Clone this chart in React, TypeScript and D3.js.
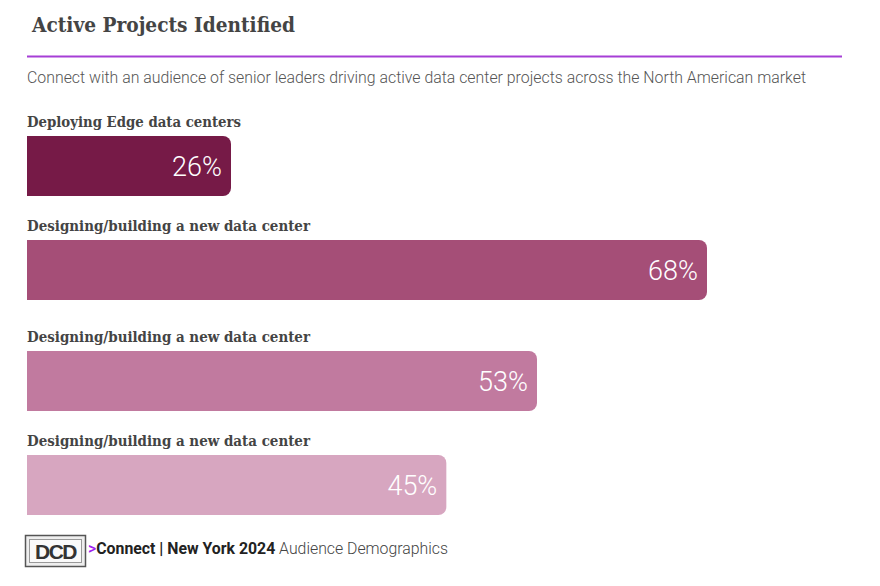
import React from "react";
import * as d3 from "d3";

const categories = [
  "Deploying Edge data centers",
  "Designing/building a new data center",
  "Designing/building a new data center",
  "Designing/building a new data center",
];
const values = [26, 68, 53, 45];
const colors = ["#761a47", "#a54e77", "#c17a9f", "#d7a6c0"];
const title = "Active Projects Identified";
const subtitle =
  "Connect with an audience of senior leaders driving active data center projects across the North American market";

export default function App() {
  const W = 880;
  const H = 586;
  const x = d3.scaleLinear().domain([8, 68]).range([27, 707]);
  const rowTop = [136, 240, 351, 455];
  const barH = 60;
  const r = 8;
  const barPath = (x0: number, x1: number, y0: number, h: number) => {
    const p = d3.path();
    p.moveTo(x0, y0);
    p.lineTo(x1 - r, y0);
    p.arcTo(x1, y0, x1, y0 + r, r);
    p.lineTo(x1, y0 + h - r);
    p.arcTo(x1, y0 + h, x1 - r, y0 + h, r);
    p.lineTo(x0, y0 + h);
    p.closePath();
    return p.toString();
  };
  return (
    <svg width={W} height={H} style={{ position: "absolute", left: 0, top: 0 }}>
      <rect width={W} height={H} fill="#fff" />
      <text
        x={32}
        y={32}
        fontFamily="'DejaVu Serif', serif"
        fontWeight="bold"
        fontSize={20}
        fill="#444"
        textLength={263}
        lengthAdjust="spacingAndGlyphs"
      >
        {title}
      </text>
      <line x1={27} x2={842} y1={56.5} y2={56.5} stroke="#a63fd6" strokeWidth={2} />
      <text
        x={27}
        y={83}
        fontFamily="Roboto"
        fontWeight={300}
        fontSize={15.8}
        fill="#555"
        textLength={779}
        lengthAdjust="spacingAndGlyphs"
      >
        {subtitle}
      </text>
      {values.map((v, i) => {
        const top = rowTop[i];
        const x1 = x(v);
        return (
          <g key={i}>
            <text
              x={27}
              y={top - 9}
              fontFamily="'DejaVu Serif', serif"
              fontWeight="bold"
              fontSize={14.5}
              fill="#444"
              textLength={i === 0 ? 214 : 283}
              lengthAdjust="spacingAndGlyphs"
            >
              {categories[i]}
            </text>
            <path d={barPath(27, x1, top, barH)} fill={colors[i]} />
            <text
              x={x1 - 9}
              y={top + barH / 2 + 9.5}
              textAnchor="end"
              fontFamily="Roboto"
              fontWeight={300}
              fontSize={27}
              fill="#fff"
            >
              {v}%
            </text>
          </g>
        );
      })}
      <g>
        <rect x={25.5} y={535.5} width={60} height={31} fill="#eee" stroke="#555" strokeWidth={1.5} />
        <rect x={29.5} y={539.5} width={52} height={23} fill="#fafafa" stroke="#999" strokeWidth={1} />
        <text
          x={55.5}
          y={559}
          textAnchor="middle"
          fontFamily="'Liberation Sans', Arial, sans-serif"
          fontWeight="bold"
          fontSize={21}
          fill="#333"
          letterSpacing={-1.5}
        >
          DCD
        </text>
        <text
          x={88}
          y={554}
          fontFamily="Roboto"
          fontSize={15.8}
          fill="#222"
          textLength={360}
          lengthAdjust="spacingAndGlyphs"
        >
          <tspan fill="#a020f0" fontWeight={500}>&gt;</tspan>
          <tspan fontWeight={700}>Connect | New York 2024</tspan>
          <tspan fontWeight={300} fill="#444"> Audience Demographics</tspan>
        </text>
      </g>
    </svg>
  );
}
